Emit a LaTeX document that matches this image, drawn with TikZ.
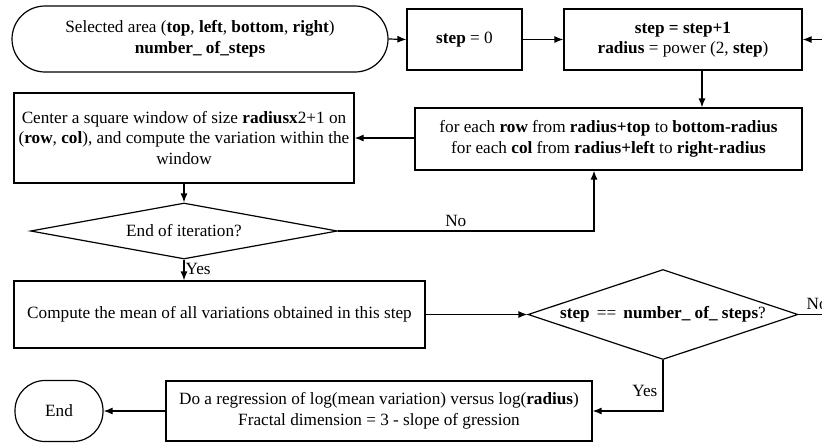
\documentclass[tikz,border=0pt]{standalone}
\usepackage{fontspec}
\setmainfont{Liberation Serif}
\usetikzlibrary{arrows.meta,shapes.geometric}
\begin{document}
\begin{tikzpicture}[x=1pt,y=-1pt,
  every node/.style={font=\fontsize{17.2}{20.5}\selectfont},
  box/.style={draw,line width=1.2pt,inner sep=0pt,align=center},
  term/.style={box},
  dec/.style={draw,line width=1.2pt,diamond,inner sep=0pt,align=center},
  flow/.style={line width=1.2pt,-{Latex[length=9pt,width=7pt]}},
  plain/.style={line width=1.2pt},
  lbl/.style={inner sep=1pt}]
\useasboundingbox (0,0) rectangle (822,442);
\clip (0,0) rectangle (822,442);
% nodes
\node[term,rounded corners=33pt,minimum width=376pt,minimum height=66pt] (start) at (200,39)
  {Selected area (\textbf{top}, \textbf{left}, \textbf{bottom}, \textbf{right})\\\textbf{number\_ of\_steps}};
\node[box,minimum width=115pt,minimum height=61pt] (s0) at (464.5,39.5) {\textbf{step} = 0};
\node[box,minimum width=238pt,minimum height=61pt] (s1) at (683,39.5)
  {\textbf{step = step+1}\\\textbf{radius} = power (2, \textbf{step})};
\node[box,minimum width=387pt,minimum height=62pt] (each) at (608.5,139)
  {for each \textbf{row} from \textbf{radius+top} to \textbf{bottom-radius}\\for each \textbf{col} from \textbf{radius+left} to \textbf{right-radius}};
\node[box,minimum width=340pt,minimum height=90pt] (win) at (184,138)
  {Center a square window of size \textbf{radiusx}2+1 on\\(\textbf{row}, \textbf{col}), and compute the variation within the\\window};
\node[dec,shape aspect=5.48,minimum width=307pt,minimum height=56pt] (d1) at (184,231) {End of iteration?};
\node[box,minimum width=411pt,minimum height=67pt] (mean) at (219.5,314.5)
  {Compute the mean of all variations obtained in this step};
\node[dec,shape aspect=3,minimum width=270pt,minimum height=90pt] (d2) at (663,314.5)
  {\textbf{step} \,==\, \textbf{number\_ of\_ steps}?};
\node[box,minimum width=426pt,minimum height=60pt] (reg) at (379,411)
  {Do a regression of log(mean variation) versus log(\textbf{radius})\\Fractal dimension = 3 - slope of gression};
\node[term,rounded corners=30pt,minimum width=88pt,minimum height=61pt] (end) at (59,411) {End};
\coordinate (rin) at (840,39.5);
\coordinate (rout) at (840,314.5);
% connectors
\draw[flow] (start.east) -- (s0.west);
\draw[flow] (s0.east) -- (s1.west);
\draw[flow] (rin) -- (s1.east);
\draw[flow] (s1.south -| 702,0) -- (each.north -| 702,0);
\draw[flow] (each.west |- win.east) -- (win.east);
\draw[flow] (win.south) -- (d1.north);
\draw[flow] (d1.east) -| node[lbl,pos=0.23,above=3pt] {No} (each.south -| 594,0);
\draw[flow] (d1.south) -- node[lbl,right,pos=0.45] {Yes} (d1.south |- mean.north);
\draw[flow] (mean.east) -- (d2.west);
\draw[plain] (d2.east) -- node[lbl,above=3pt,pos=0.45] {No} (rout);
\draw[flow] (d2.south) |- node[lbl,pos=0.3,left,xshift=-4pt] {Yes} (reg.east);
\draw[flow] (reg.west) -- (end.east);
\end{tikzpicture}
\end{document}
